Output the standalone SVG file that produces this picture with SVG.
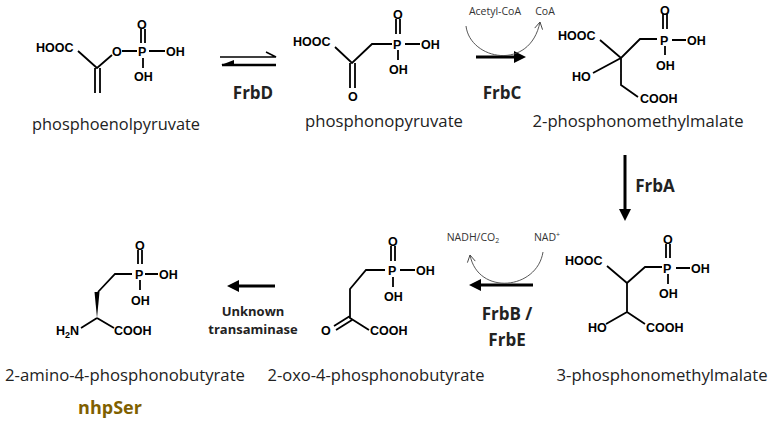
<svg xmlns="http://www.w3.org/2000/svg" width="770" height="424" viewBox="0 0 770 424">
<style>
.a{font-family:"Liberation Sans",Arial,sans-serif;font-weight:bold;font-size:12.5px;fill:#000}
.n{font-family:"Open Sans","Noto Sans",sans-serif;font-size:15.5px;fill:#222;text-anchor:middle}
.e{font-family:"Open Sans","Noto Sans",sans-serif;font-weight:bold;font-size:17px;fill:#222;text-anchor:middle}
.s{font-family:"Open Sans","Noto Sans",sans-serif;font-size:10.5px;fill:#333;text-anchor:middle}
.t{font-family:"Open Sans","Noto Sans",sans-serif;font-weight:bold;font-size:13px;fill:#222;text-anchor:middle}
.b{stroke:#000;stroke-width:1.8;fill:none}
.c{stroke:#444;stroke-width:0.9;fill:none}
.r{stroke:#000;stroke-width:3;fill:none}
</style>
<defs>
<marker id="h" markerWidth="4" markerHeight="4" refX="1" refY="2" orient="auto" markerUnits="strokeWidth"><path d="M0,0 L4,2 L0,4 z" fill="#000"/></marker>
<marker id="o" markerWidth="10" markerHeight="10" refX="8" refY="5" orient="auto" markerUnits="userSpaceOnUse"><path d="M1,1 L8,5 L1,9" fill="none" stroke="#444" stroke-width="0.9"/></marker>
</defs>
<rect width="770" height="424" fill="#fff"/>

<g id="pep">
<text class="a" x="36" y="52">HOOC</text>
<path class="b" d="M78,51 L97,68 L112,55 M95,68 V93 M100,68 V93 M122,51 H137 M149,51 H165 M141,29 V43 M145,29 V43 M143,58 V68"/>
<text class="a" x="112" y="56">O</text>
<text class="a" x="138" y="56">P</text>
<text class="a" x="137" y="29">O</text>
<text class="a" x="166" y="56">OH</text>
<text class="a" x="134" y="81">OH</text>
<text class="n" x="116" y="130" textLength="168" lengthAdjust="spacingAndGlyphs">phosphoenolpyruvate</text>
</g>

<g id="ppyr">
<text class="a" x="293" y="46">HOOC</text>
<path class="b" d="M335,47 L352,63 L372,44 H392 M350,63 V88 M355,63 V88 M405,44 H420 M396,19 V34 M400,19 V34 M398,50 V60"/>
<text class="a" x="348" y="101">O</text>
<text class="a" x="393" y="49">P</text>
<text class="a" x="393" y="19">O</text>
<text class="a" x="421" y="49">OH</text>
<text class="a" x="389" y="74">OH</text>
<text class="n" x="384" y="127" textLength="158" lengthAdjust="spacingAndGlyphs">phosphonopyruvate</text>
</g>

<g id="pmm2">
<text class="a" x="558" y="40">HOOC</text>
<path class="b" d="M600,40 L621,58 L640,39 H657 M593,73 L621,58 V85 L638,97 M672,40 H686 M663,14 V29 M667,14 V29 M665,46 V55"/>
<text class="a" x="660" y="45">P</text>
<text class="a" x="660" y="15">O</text>
<text class="a" x="687" y="45">OH</text>
<text class="a" x="656" y="70">OH</text>
<text class="a" x="572" y="81">HO</text>
<text class="a" x="640" y="103">COOH</text>
<text class="n" x="638" y="127" textLength="211" lengthAdjust="spacingAndGlyphs">2-phosphonomethylmalate</text>
</g>

<g id="pmm3">
<text class="a" x="565" y="265">HOOC</text>
<path class="b" d="M607,266 L627,283 L645,267 H662 M627,283 V312 L606,324 M627,312 L645,324 M676,268 H690 M666,244 V258 M670,244 V258 M668,274 V284"/>
<text class="a" x="663" y="273">P</text>
<text class="a" x="663" y="244">O</text>
<text class="a" x="691" y="273">OH</text>
<text class="a" x="659" y="298">OH</text>
<text class="a" x="588" y="332">HO</text>
<text class="a" x="646" y="332">COOH</text>
<text class="n" x="662" y="381" textLength="211" lengthAdjust="spacingAndGlyphs">3-phosphonomethylmalate</text>
</g>

<g id="oxo">
<path class="b" d="M385,270 H366 L350,289 V318 L369,330 M350,316 L334,326 M352,320 L336,330 M400,270 H415 M391,246 V261 M395,246 V261 M393,277 V287"/>
<text class="a" x="388" y="275">P</text>
<text class="a" x="388" y="246">O</text>
<text class="a" x="416" y="275">OH</text>
<text class="a" x="384" y="301">OH</text>
<text class="a" x="321" y="335">O</text>
<text class="a" x="370" y="335">COOH</text>
<text class="n" x="376" y="381" textLength="217" lengthAdjust="spacingAndGlyphs">2-oxo-4-phosphonobutyrate</text>
</g>

<g id="apb">
<path class="b" d="M132,274 H115 L98,292 M97,318 L81,328 M97,318 L114,328 M145,274 H158 M138,250 V264 M142,250 V264 M140,280 V290"/>
<path d="M97,318 L94.5,292 L99.5,292 z" fill="#000"/>
<text class="a" x="135" y="279">P</text>
<text class="a" x="135" y="250">O</text>
<text class="a" x="159" y="279">OH</text>
<text class="a" x="131" y="305">OH</text>
<text class="a" x="56" y="335">H<tspan font-size="9" dy="3">2</tspan><tspan dy="-3">N</tspan></text>
<text class="a" x="114" y="335">COOH</text>
<text class="n" x="125" y="381" textLength="240" lengthAdjust="spacingAndGlyphs">2-amino-4-phosphonobutyrate</text>
<text x="110" y="414" font-family="'Open Sans','Noto Sans',sans-serif" font-weight="bold" font-size="18" fill="#7f6000" text-anchor="middle">nhpSer</text>
</g>

<g id="connectors">
<path d="M220,57 H276 L266,52" stroke="#000" stroke-width="1.5" fill="none"/>
<path d="M276,65 H222" stroke="#000" stroke-width="2.5"/>
<path d="M221,65 L234,60 V65 z" fill="#000"/>
<text class="e" x="253" y="99">FrbD</text>

<path class="r" d="M476,57 H517" marker-end="url(#h)"/>
<path class="c" d="M466,26 C470,60 530,72 540,22" marker-end="url(#o)"/>
<text class="s" x="495" y="15">Acetyl-CoA</text>
<text class="s" x="545" y="15">CoA</text>
<text class="e" x="502" y="99">FrbC</text>

<path class="r" d="M625,155 V212" marker-end="url(#h)"/>
<text class="e" x="655" y="192">FrbA</text>

<path class="r" d="M533,285 H478" marker-end="url(#h)"/>
<path class="c" d="M543,252 C537,290 478,296 470,255" marker-end="url(#o)"/>
<text class="s" x="473" y="241">NADH/CO<tspan font-size="7" dy="2">2</tspan></text>
<text class="s" x="547" y="241">NAD<tspan font-size="7" dy="-4">+</tspan></text>
<text class="e" x="507" y="320">FrbB /</text>
<text class="e" x="507" y="346">FrbE</text>

<path class="r" d="M275,286 H236" marker-end="url(#h)"/>
<text class="t" x="253" y="316">Unknown</text>
<text class="t" x="253" y="334">transaminase</text>
</g>
</svg>
